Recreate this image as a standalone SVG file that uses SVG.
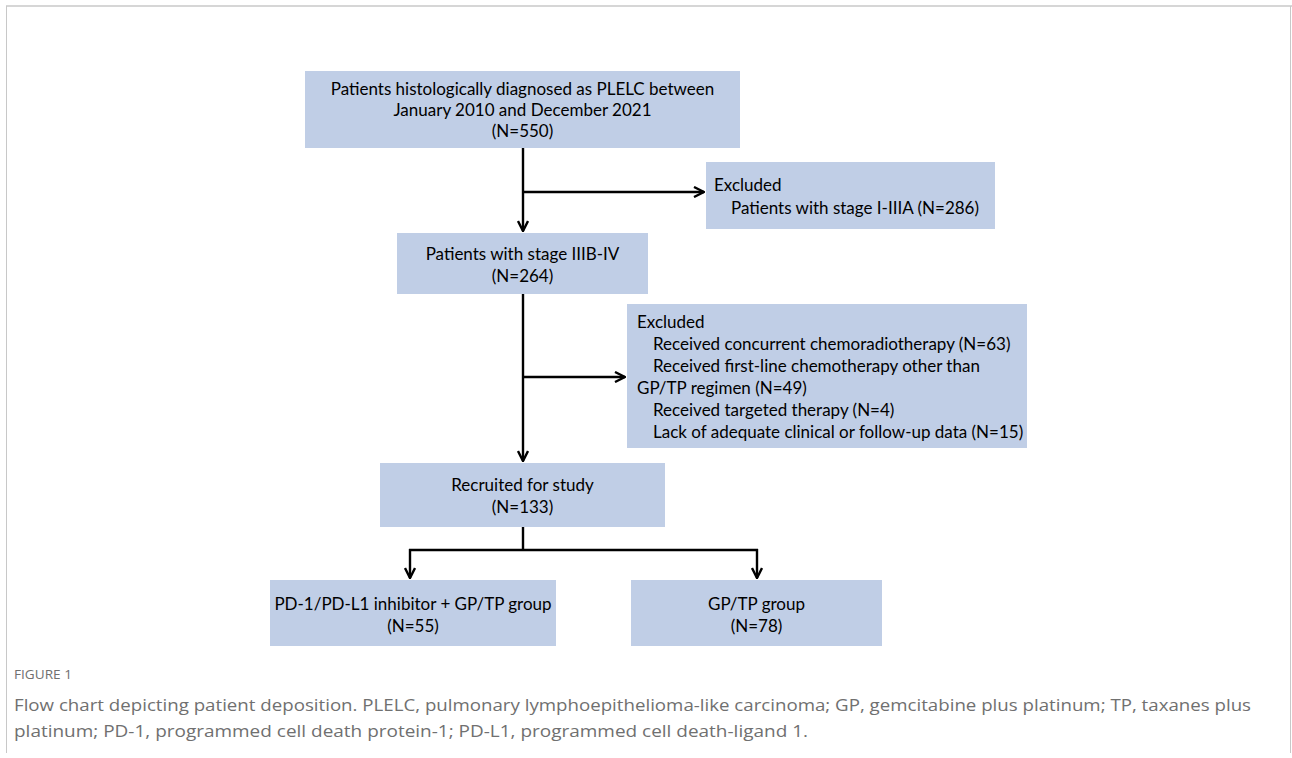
<svg xmlns="http://www.w3.org/2000/svg" width="1292" height="758" viewBox="0 0 1292 758">
<defs>
<style>
.box{fill:#c0cee6;}
.t{font-family:Lato,"Open Sans","Liberation Sans",sans-serif;font-size:17px;fill:#000;}
.c{text-anchor:middle;}
.conn{stroke:#000;stroke-width:2.4;fill:none;}
.cap{font-family:"Open Sans","Liberation Sans",sans-serif;fill:#707070;}
</style>
<marker id="ah" viewBox="0 0 12 12" refX="11" refY="6" markerWidth="12" markerHeight="12" markerUnits="userSpaceOnUse" orient="auto">
<path d="M1,1 L11,6 L1,11" fill="none" stroke="#000" stroke-width="2.4"/>
</marker>
</defs>
<rect x="0" y="0" width="1292" height="758" fill="#fff"/>
<g id="frame">
<line x1="6" y1="6" x2="1292" y2="6" stroke="#d6d6d6" stroke-width="2"/>
<line x1="6.5" y1="6" x2="6.5" y2="753" stroke="#c8c8c8" stroke-width="1"/>
<line x1="1290.5" y1="6" x2="1290.5" y2="753" stroke="#c8c8c8" stroke-width="1"/>
</g>
<g id="connectors">
<line class="conn" x1="523" y1="148" x2="523" y2="231" marker-end="url(#ah)"/>
<line class="conn" x1="523" y1="192" x2="704" y2="192" marker-end="url(#ah)"/>
<line class="conn" x1="523" y1="294" x2="523" y2="461" marker-end="url(#ah)"/>
<line class="conn" x1="523" y1="377" x2="625" y2="377" marker-end="url(#ah)"/>
<line class="conn" x1="523" y1="527" x2="523" y2="550"/>
<line class="conn" x1="409" y1="550" x2="758" y2="550"/>
<line class="conn" x1="410" y1="549" x2="410" y2="578" marker-end="url(#ah)"/>
<line class="conn" x1="757" y1="549" x2="757" y2="578" marker-end="url(#ah)"/>
</g>
<g id="n1">
<rect class="box" x="305" y="71" width="435" height="77"/>
<text class="t c" x="522.5" y="95">Patients histologically diagnosed as PLELC between</text>
<text class="t c" x="522.5" y="116">January 2010 and December 2021</text>
<text class="t c" x="522.5" y="137">(N=550)</text>
</g>
<g id="n2">
<rect class="box" x="706" y="162" width="289" height="67"/>
<text class="t" x="714" y="191">Excluded</text>
<text class="t" x="731" y="214">Patients with stage I-IIIA (N=286)</text>
</g>
<g id="n3">
<rect class="box" x="397" y="233" width="251" height="61"/>
<text class="t c" x="522.5" y="260">Patients with stage IIIB-IV</text>
<text class="t c" x="522.5" y="282">(N=264)</text>
</g>
<g id="n4">
<rect class="box" x="627" y="304" width="400" height="144"/>
<text class="t" x="637" y="328">Excluded</text>
<text class="t" x="653" y="350">Received concurrent chemoradiotherapy (N=63)</text>
<text class="t" x="653" y="372">Received first-line chemotherapy other than</text>
<text class="t" x="637" y="394">GP/TP regimen (N=49)</text>
<text class="t" x="653" y="416">Received targeted therapy (N=4)</text>
<text class="t" x="653" y="438">Lack of adequate clinical or follow-up data (N=15)</text>
</g>
<g id="n5">
<rect class="box" x="380" y="463" width="285" height="64"/>
<text class="t c" x="522.5" y="491">Recruited for study</text>
<text class="t c" x="522.5" y="513">(N=133)</text>
</g>
<g id="n6">
<rect class="box" x="270" y="580" width="286" height="66"/>
<text class="t c" x="413" y="610">PD-1/PD-L1 inhibitor + GP/TP group</text>
<text class="t c" x="413" y="632">(N=55)</text>
</g>
<g id="n7">
<rect class="box" x="631" y="580" width="251" height="66"/>
<text class="t c" x="756.5" y="610">GP/TP group</text>
<text class="t c" x="756.5" y="632">(N=78)</text>
</g>
<g id="caption">
<text class="cap" x="14" y="679" font-size="12" textLength="58" lengthAdjust="spacingAndGlyphs">FIGURE 1</text>
<text class="cap" x="14" y="711" font-size="17" textLength="1237" lengthAdjust="spacingAndGlyphs">Flow chart depicting patient deposition. PLELC, pulmonary lymphoepithelioma-like carcinoma; GP, gemcitabine plus platinum; TP, taxanes plus</text>
<text class="cap" x="14" y="737" font-size="17" textLength="794" lengthAdjust="spacingAndGlyphs">platinum; PD-1, programmed cell death protein-1; PD-L1, programmed cell death-ligand 1.</text>
</g>
</svg>
